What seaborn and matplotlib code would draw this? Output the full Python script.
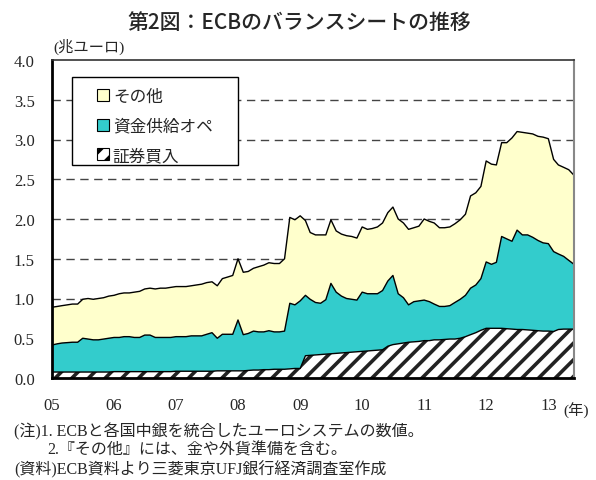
import numpy as np
import pandas as pd
import matplotlib
matplotlib.use("Agg")
import matplotlib.pyplot as plt
from matplotlib.patches import Patch, Rectangle
import seaborn as sns

# ---------------- data (monthly, Jan 2005 - Jun 2013, trillion EUR, stacked levels) ----------------
months = pd.date_range("2005-01-01", periods=102, freq="MS")

# top of stack = total balance sheet
total_level = [
    0.89, 0.90, 0.91, 0.92, 0.93, 0.93, 0.99, 1.00, 0.99, 1.00, 1.01, 1.03,
    1.04, 1.06, 1.07, 1.07, 1.08, 1.09, 1.12, 1.13, 1.12, 1.13, 1.13, 1.14,
    1.15, 1.15, 1.15, 1.16, 1.17, 1.18, 1.20, 1.21, 1.16, 1.25, 1.27, 1.29,
    1.50, 1.33, 1.34, 1.38, 1.40, 1.42, 1.45, 1.44, 1.44, 1.50, 2.02, 1.99,
    2.04, 1.98, 1.83, 1.80, 1.80, 1.80, 1.99, 1.85, 1.81, 1.79, 1.78, 1.76,
    1.90, 1.87, 1.88, 1.90, 1.95, 2.08, 2.15, 2.00, 1.95, 1.87, 1.89, 1.91,
    2.00, 1.97, 1.95, 1.89, 1.89, 1.90, 1.94, 1.99, 2.06, 2.29, 2.33, 2.41,
    2.73, 2.69, 2.68, 2.96, 2.96, 3.02, 3.10, 3.09, 3.08, 3.07, 3.04, 3.03,
    3.01, 2.75, 2.68, 2.65, 2.62, 2.55,
]
# top of 資金供給オペ (= 証券買入 + 資金供給オペ)
ops_level = [
    0.415, 0.43, 0.44, 0.445, 0.45, 0.45, 0.50, 0.49, 0.48, 0.48, 0.49, 0.50,
    0.51, 0.51, 0.52, 0.52, 0.51, 0.51, 0.54, 0.54, 0.51, 0.51, 0.51, 0.51,
    0.52, 0.52, 0.52, 0.53, 0.53, 0.53, 0.55, 0.57, 0.50, 0.55, 0.55, 0.55,
    0.73, 0.545, 0.56, 0.59, 0.58, 0.58, 0.595, 0.58, 0.58, 0.59, 0.94, 0.92,
    0.97, 1.04, 0.99, 0.95, 0.94, 0.985, 1.19, 1.08, 1.03, 1.00, 0.99, 0.98,
    1.08, 1.06, 1.06, 1.06, 1.10, 1.22, 1.29, 1.06, 1.01, 0.92, 0.96, 0.97,
    0.98, 0.96, 0.93, 0.90, 0.90, 0.91, 0.95, 0.99, 1.04, 1.13, 1.17, 1.25,
    1.46, 1.43, 1.455, 1.78, 1.75, 1.72, 1.86, 1.80, 1.80, 1.77, 1.73, 1.70,
    1.69, 1.59, 1.56, 1.53, 1.48, 1.43,
]
# 証券買入
sec_level = [
    0.075, 0.075, 0.075, 0.075, 0.075, 0.075, 0.075, 0.075, 0.075, 0.075, 0.075, 0.075,
    0.08, 0.08, 0.08, 0.08, 0.08, 0.08, 0.08, 0.08, 0.08, 0.08, 0.08, 0.08,
    0.085, 0.085, 0.085, 0.085, 0.085, 0.085, 0.085, 0.085, 0.09, 0.09, 0.09, 0.09,
    0.09, 0.09, 0.095, 0.10, 0.10, 0.105, 0.105, 0.11, 0.11, 0.11, 0.115, 0.12,
    0.12, 0.28, 0.285, 0.29, 0.295, 0.30, 0.305, 0.31, 0.315, 0.32, 0.325, 0.33,
    0.335, 0.34, 0.345, 0.35, 0.355, 0.40, 0.42, 0.43, 0.44, 0.45, 0.455, 0.46,
    0.47, 0.47, 0.48, 0.48, 0.485, 0.49, 0.49, 0.50, 0.52, 0.545, 0.57, 0.60,
    0.625, 0.625, 0.625, 0.625, 0.62, 0.615, 0.61, 0.61, 0.605, 0.60, 0.595, 0.59,
    0.59, 0.585, 0.61, 0.615, 0.615, 0.615,
]

series_labels = ["その他", "資金供給オペ", "証券買入"]
year_ticks = ["05", "06", "07", "08", "09", "10", "11", "12", "13"]
y_ticks = [0.0, 0.5, 1.0, 1.5, 2.0, 2.5, 3.0, 3.5, 4.0]

title = "第2図：ECBのバランスシートの推移"
unit_label = "(兆ユーロ)"
x_unit = "(年)"
notes = [
    "(注)1. ECBと各国中銀を統合したユーロシステムの数値。",
    "2.『その他』には、金や外貨準備を含む。",
    "(資料)ECB資料より三菱東京UFJ銀行経済調査室作成",
]

# ---------------- style ----------------
sns.set_theme(style="white")
plt.rcParams["font.family"] = ["Liberation Serif", "Noto Sans CJK JP", "DejaVu Sans"]
plt.rcParams["hatch.linewidth"] = 2.6
plt.rcParams["hatch.color"] = "#222222"

df = pd.DataFrame({"date": months, "total": total_level, "ops": ops_level, "sec": sec_level})

fig = plt.figure(figsize=(5.96, 4.81), dpi=100)
ax = fig.add_axes([52 / 596, 1 - 379 / 481, (574 - 52) / 596, (379 - 61) / 481])

# gridlines behind areas
for yv in y_ticks[1:-1]:
    ax.axhline(yv, color="#444444", lw=1.0, ls=(0, (6, 4)), zorder=0)

c_other = "#FFFFCC"
c_ops = "#33CCCC"

ax.fill_between(df["date"], df["ops"], df["total"], facecolor=c_other, edgecolor="none", zorder=1)
ax.fill_between(df["date"], df["sec"], df["ops"], facecolor=c_ops, edgecolor="none", zorder=1)
ax.fill_between(df["date"], 0, df["sec"], facecolor="white", edgecolor="#222222", hatch="//",
                linewidth=0, zorder=1)

for col in ["total", "ops", "sec"]:
    sns.lineplot(data=df, x="date", y=col, ax=ax, color="black", lw=1.0, zorder=2)

ax.set_xlim(pd.Timestamp("2005-01-01"), pd.Timestamp("2013-06-01"))
ax.set_ylim(0, 4.0)
ax.set_xlabel("")
ax.set_ylabel("")

tick_dates = pd.date_range("2005-01-01", periods=len(year_ticks), freq="YS")
ax.set_xticks(tick_dates)
ax.set_xticklabels(year_ticks, fontsize=12, family=["Liberation Serif"])
ax.set_yticks(y_ticks)
ax.set_yticklabels([f"{v:.1f}" for v in y_ticks], fontsize=12, family=["Liberation Serif"])
ax.tick_params(axis="x", direction="in", length=5, width=0.8, color="#888888", pad=14, bottom=True)
ax.tick_params(axis="y", length=0, pad=12.5)

for side in ["left", "bottom"]:
    ax.spines[side].set_color("black")
    ax.spines[side].set_linewidth(2.0)
ax.spines["top"].set_color("#333333")
ax.spines["top"].set_linewidth(1.2)
ax.spines["right"].set_color("#888888")
ax.spines["right"].set_linewidth(1.5)
for sp in ax.spines.values():
    sp.set_zorder(5)

# legend frame (wider than its content, as in the reference)
frame = Rectangle(((72 - 52) / 522, (379 - 166) / 318), 166 / 522, 88 / 318,
                  transform=ax.transAxes, facecolor="white", edgecolor="black",
                  linewidth=1.0, zorder=8)
ax.add_patch(frame)

handles = [
    Patch(facecolor=c_other, edgecolor="black", linewidth=0.8),
    Patch(facecolor=c_ops, edgecolor="black", linewidth=0.8),
    Patch(facecolor="white", edgecolor="black", hatch="//", linewidth=0.8),
]
leg = ax.legend(handles, series_labels, loc="upper left",
                bbox_to_anchor=((97 - 52) / 522, (379 - 89) / 318),
                frameon=False, prop={"family": ["Noto Sans CJK JP"], "size": 12},
                handlelength=0.7, handleheight=0.7, handletextpad=0.25, labelspacing=0.75,
                borderpad=0, borderaxespad=0)
leg.set_zorder(10)

fig.text(0.503, 0.953, title, ha="center", va="center", fontsize=15,
         family=["Noto Sans CJK JP"], fontweight="medium")
fig.text(53 / 596, 1 - 47 / 481, unit_label, ha="left", va="center", fontsize=11,
         family=["Liberation Serif", "Noto Sans CJK JP"])
fig.text(563 / 596, 1 - 411 / 481, x_unit, ha="left", va="center", fontsize=11,
         family=["Liberation Serif", "Noto Sans CJK JP"])
note_font = ["Liberation Serif", "Noto Sans CJK JP"]
fig.text(14 / 596, 1 - 432 / 481, notes[0], ha="left", va="center", fontsize=11.5, family=note_font)
fig.text(47 / 596, 1 - 451 / 481, notes[1], ha="left", va="center", fontsize=11.5, family=note_font)
fig.text(14 / 596, 1 - 470 / 481, notes[2], ha="left", va="center", fontsize=11.5, family=note_font)

fig.savefig("out.png", dpi=100)
